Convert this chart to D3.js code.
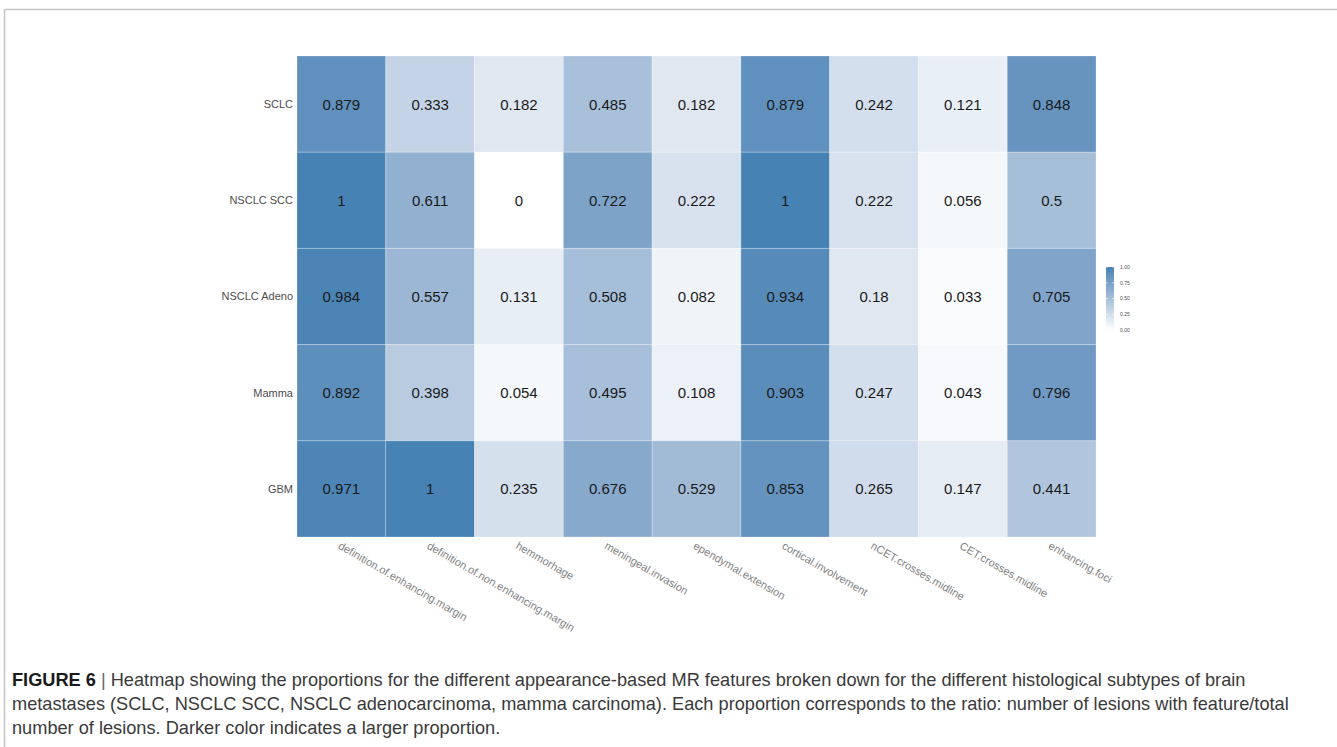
<!DOCTYPE html>
<html>
<head>
<meta charset="utf-8">
<script src="https://cdn.jsdelivr.net/npm/d3@7"></script>
<style>
  body { margin: 0; background: #fff; }
  svg { display: block; }
</style>
</head>
<body>
<div id="chart"></div>
<script>
const subtypes = ["SCLC", "NSCLC SCC", "NSCLC Adeno", "Mamma", "GBM"];
const features = [
  "definition.of.enhancing.margin",
  "definition.of.non.enhancing.margin",
  "hemmorhage",
  "meningeal.invasion",
  "ependymal.extension",
  "cortical.involvement",
  "nCET.crosses.midline",
  "CET.crosses.midline",
  "enhancing.foci",
];
const sclc = [0.879, 0.333, 0.182, 0.485, 0.182, 0.879, 0.242, 0.121, 0.848];
const nsclcScc = [1, 0.611, 0, 0.722, 0.222, 1, 0.222, 0.056, 0.5];
const nsclcAdeno = [0.984, 0.557, 0.131, 0.508, 0.082, 0.934, 0.18, 0.033, 0.705];
const mamma = [0.892, 0.398, 0.054, 0.495, 0.108, 0.903, 0.247, 0.043, 0.796];
const gbm = [0.971, 1, 0.235, 0.676, 0.529, 0.853, 0.265, 0.147, 0.441];
const legendTicks = [0, 0.25, 0.5, 0.75, 1];
const captionLines = [
  "Heatmap showing the proportions for the different appearance-based MR features broken down for the different histological subtypes of brain",
  "metastases (SCLC, NSCLC SCC, NSCLC adenocarcinoma, mamma carcinoma). Each proportion corresponds to the ratio: number of lesions with feature/total",
  "number of lesions. Darker color indicates a larger proportion.",
];

const rows = [sclc, nsclcScc, nsclcAdeno, mamma, gbm];
const cells = [];
rows.forEach((r, i) => {
  r.forEach((v, j) => {
    cells.push({ row: subtypes[i], col: features[j], value: v });
  });
});

const width = 1337;
const height = 747;

const svg = d3
  .select("#chart")
  .append("svg")
  .attr("width", width)
  .attr("height", height);

// figure frame (top and left rule)
svg.append("line")
  .attr("x1", 4.5).attr("x2", width)
  .attr("y1", 9.5).attr("y2", 9.5)
  .attr("stroke", "#c4c4c4").attr("stroke-width", 1.5);
svg.append("line")
  .attr("x1", 4.5).attr("x2", 4.5)
  .attr("y1", 9.5).attr("y2", height)
  .attr("stroke", "#c4c4c4").attr("stroke-width", 1.5);

// Heatmap area
const x = d3.scaleBand().domain(features).range([297, 1096]);
const y = d3.scaleBand().domain(subtypes).range([56, 537]);
const color = d3
  .scaleLinear()
  .domain([0, 1])
  .range(["#ffffff", "steelblue"])
  .interpolate(d3.interpolateLab);

svg
  .selectAll("rect.cell")
  .data(cells)
  .enter()
  .append("rect")
  .attr("class", "cell")
  .attr("x", (d) => x(d.col))
  .attr("y", (d) => y(d.row))
  .attr("width", x.bandwidth())
  .attr("height", y.bandwidth())
  .attr("fill", (d) => color(d.value))
  .attr("stroke", "#ffffff")
  .attr("stroke-opacity", 0.25)
  .attr("stroke-width", 1);

svg
  .selectAll("text.cell")
  .data(cells)
  .enter()
  .append("text")
  .attr("class", "cell")
  .attr("x", (d) => x(d.col) + x.bandwidth() / 2)
  .attr("y", (d) => y(d.row) + y.bandwidth() / 2)
  .attr("dy", "0.36em")
  .attr("text-anchor", "middle")
  .attr("font-family", "Liberation Sans, Arial, sans-serif")
  .attr("font-size", "15px")
  .attr("fill", "#1a1a1a")
  .text((d) => String(d.value));

// Row labels
svg
  .selectAll("text.rowlab")
  .data(subtypes)
  .enter()
  .append("text")
  .attr("class", "rowlab")
  .attr("x", 293)
  .attr("y", (d) => y(d) + y.bandwidth() / 2)
  .attr("dy", "0.36em")
  .attr("text-anchor", "end")
  .attr("font-family", "Liberation Sans, Arial, sans-serif")
  .attr("font-size", "11px")
  .attr("fill", "#4d4d4d")
  .text((d) => d);

// Column labels, rotated
svg
  .selectAll("text.collab")
  .data(features)
  .enter()
  .append("text")
  .attr("class", "collab")
  .attr("transform", (d) => `translate(${x(d) + x.bandwidth() / 2 - 4},${548}) rotate(30)`)
  .attr("text-anchor", "start")
  .attr("font-family", "Liberation Sans, Arial, sans-serif")
  .attr("font-size", "11px")
  .attr("fill", "#7f7f7f")
  .text((d) => d);

// Legend
const legendX = 1106;
const legendW = 8;
const ly = d3.scaleLinear().domain([0, 1]).range([330, 267]);

const grad = svg
  .append("defs")
  .append("linearGradient")
  .attr("id", "legendGrad")
  .attr("x1", "0%").attr("x2", "0%")
  .attr("y1", "100%").attr("y2", "0%");
d3.range(0, 1.0001, 0.1).forEach((t) => {
  grad.append("stop")
    .attr("offset", `${t * 100}%`)
    .attr("stop-color", color(t));
});

svg.append("rect")
  .attr("x", legendX)
  .attr("y", ly(1))
  .attr("width", legendW)
  .attr("height", ly(0) - ly(1))
  .attr("fill", "url(#legendGrad)");

const lg = svg.append("g");
lg.selectAll("line")
  .data(legendTicks)
  .enter()
  .append("line")
  .attr("x1", legendX).attr("x2", legendX + 2)
  .attr("y1", (d) => ly(d)).attr("y2", (d) => ly(d))
  .attr("stroke", "#ffffff").attr("stroke-width", 0.6);
lg.selectAll("line.r")
  .data(legendTicks)
  .enter()
  .append("line")
  .attr("class", "r")
  .attr("x1", legendX + legendW - 2).attr("x2", legendX + legendW)
  .attr("y1", (d) => ly(d)).attr("y2", (d) => ly(d))
  .attr("stroke", "#ffffff").attr("stroke-width", 0.6);
lg.selectAll("text")
  .data(legendTicks)
  .enter()
  .append("text")
  .attr("x", legendX + legendW + 6)
  .attr("y", (d) => ly(d))
  .attr("dy", "0.35em")
  .attr("font-family", "Liberation Sans, Arial, sans-serif")
  .attr("font-size", "5px")
  .attr("fill", "#4d4d4d")
  .text((d) => d3.format(".2f")(d));

// Caption
const cap = svg.append("g").attr("font-family", "Liberation Sans, Arial, sans-serif")
  .attr("font-size", "18.2px")
  .attr("fill", "#3a3a3a");
captionLines.forEach((line, i) => {
  const t = cap.append("text")
    .attr("x", 12)
    .attr("y", 686 + i * 24);
  if (i === 0) {
    t.append("tspan").attr("font-weight", "bold").attr("fill", "#1a1a1a").text("FIGURE 6");
    t.append("tspan").attr("fill", "#666").text(" | ");
  }
  t.append("tspan").text(line);
});
</script>
</body>
</html>
